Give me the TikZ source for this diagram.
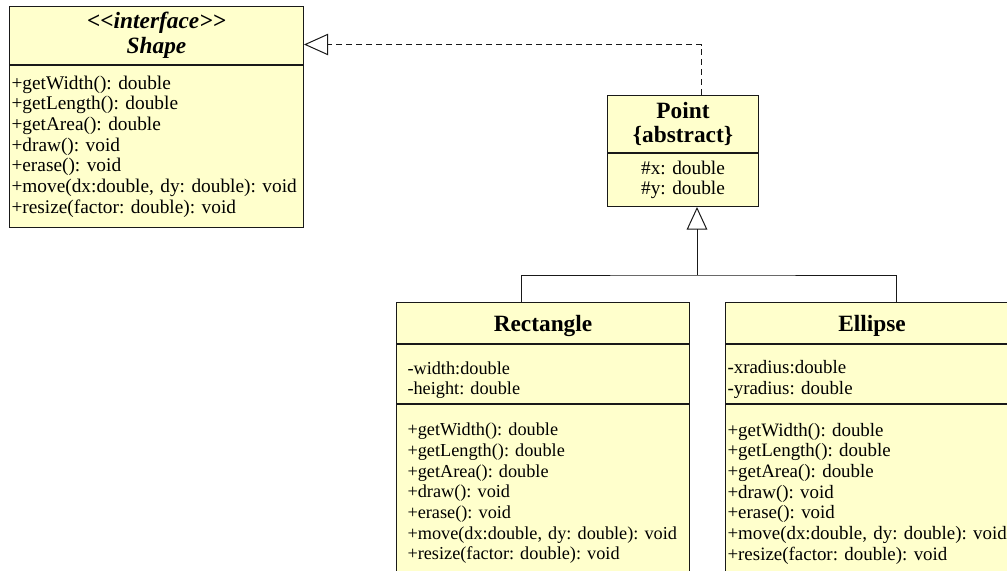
\documentclass[tikz,border=0pt]{standalone}
\usepackage{fontspec}
\setmainfont{Liberation Serif}[Ligatures=TeXOff]
\usetikzlibrary{arrows.meta,positioning,calc}
\definecolor{boxc}{RGB}{255,255,204}
\definecolor{inkc}{RGB}{25,25,25}
\frenchspacing
\newcommand\lowstrut{\rule{0pt}{18.5pt}}

\begin{document}
\begin{tikzpicture}[x=0.75pt, y=-0.75pt, line width=0.75pt,
    compart/.style={draw=inkc, fill=boxc, inner ysep=0pt, inner xsep=1.5pt, anchor=north west},
    head/.style={compart, align=center, font=\fontsize{17.5}{18.5}\selectfont\bfseries},
    body/.style={compart, align=left, font=\fontsize{14.5}{15.5}\selectfont},
    narrow/.style={body, font=\fontsize{13.7}{15.5}\selectfont},
    realize/.style={draw=inkc, dash pattern=on 4.5pt off 3pt, -{Triangle[open, length=18pt, width=16pt]}},
    extend/.style={draw=inkc, -{Triangle[open, length=17pt, width=15.5pt]}}]
  \useasboundingbox (0,0) rectangle (1007,571);
  \clip (0,0) rectangle (1007,571);

  % interface
  \node[head, text width=217.5pt, minimum height=43.5pt] (shapeT) at (9,6)
    {\textit{<<interface>>}\\\textit{Shape}};
  \node[body, below=0pt of shapeT, text width=217.5pt, minimum height=121.5pt] (shapeM)
    {+getWidth(): double\\+getLength(): double\\+getArea(): double\\+draw(): void\\
     +erase(): void\\+move(dx:double, dy: double): void\\+resize(factor: double): void};

  % abstract base
  \node[head, text width=110.25pt, minimum height=42.75pt] (ptT) at (607,95)
    {Point\\\{abstract\}};
  \node[body, align=center, below=0pt of ptT, text width=110.25pt, minimum height=39.75pt] (ptA)
    {\#x: double\\\#y: double};

  % concrete classes
  \node[head, text width=216.75pt, minimum height=30.75pt, text height=17pt] (rectT) at (396,302)
    {Rectangle};
  \node[narrow, below=0pt of rectT, inner xsep=8.25pt, text width=203.25pt, minimum height=44.25pt] (rectA)
    {\lowstrut-width:double\\-height: double};
  \node[narrow, below=0pt of rectA, inner xsep=8.25pt, text width=203.25pt, minimum height=133.5pt] (rectM)
    {+getWidth(): double\\+getLength(): double\\+getArea(): double\\+draw(): void\\
     +erase(): void\\+move(dx:double, dy: double): void\\+resize(factor: double): void};

  \node[head, text width=216.75pt, minimum height=30.75pt, text height=17pt] (ellT) at (725,302)
    {Ellipse};
  \node[body, font=\fontsize{14.2}{15.5}\selectfont, below=0pt of ellT, text width=216.75pt, minimum height=44.25pt] (ellA)
    {\lowstrut-xradius:double\\-yradius: double};
  \node[body, font=\fontsize{14.2}{15.5}\selectfont, below=0pt of ellA, text width=216.75pt, minimum height=133.5pt] (ellM)
    {+getWidth(): double\\+getLength(): double\\+getArea(): double\\+draw(): void\\
     +erase(): void\\+move(dx:double, dy: double): void\\+resize(factor: double): void};

  % realization and generalization
  \draw[realize] ($(ptT.north)+(18.5,0)$) |- ($(shapeT.east)+(0,9)$);
  \coordinate (fork) at ($(ptA.south)+(14,68)$);
  \draw[draw=inkc] ($(rectT.north)+(-21.5,0)$) |- (fork) -| ($(ellT.north)+(24.5,0)$);
  \draw[extend] (fork) -- ($(ptA.south)+(14,0)$);
\end{tikzpicture}
\end{document}
